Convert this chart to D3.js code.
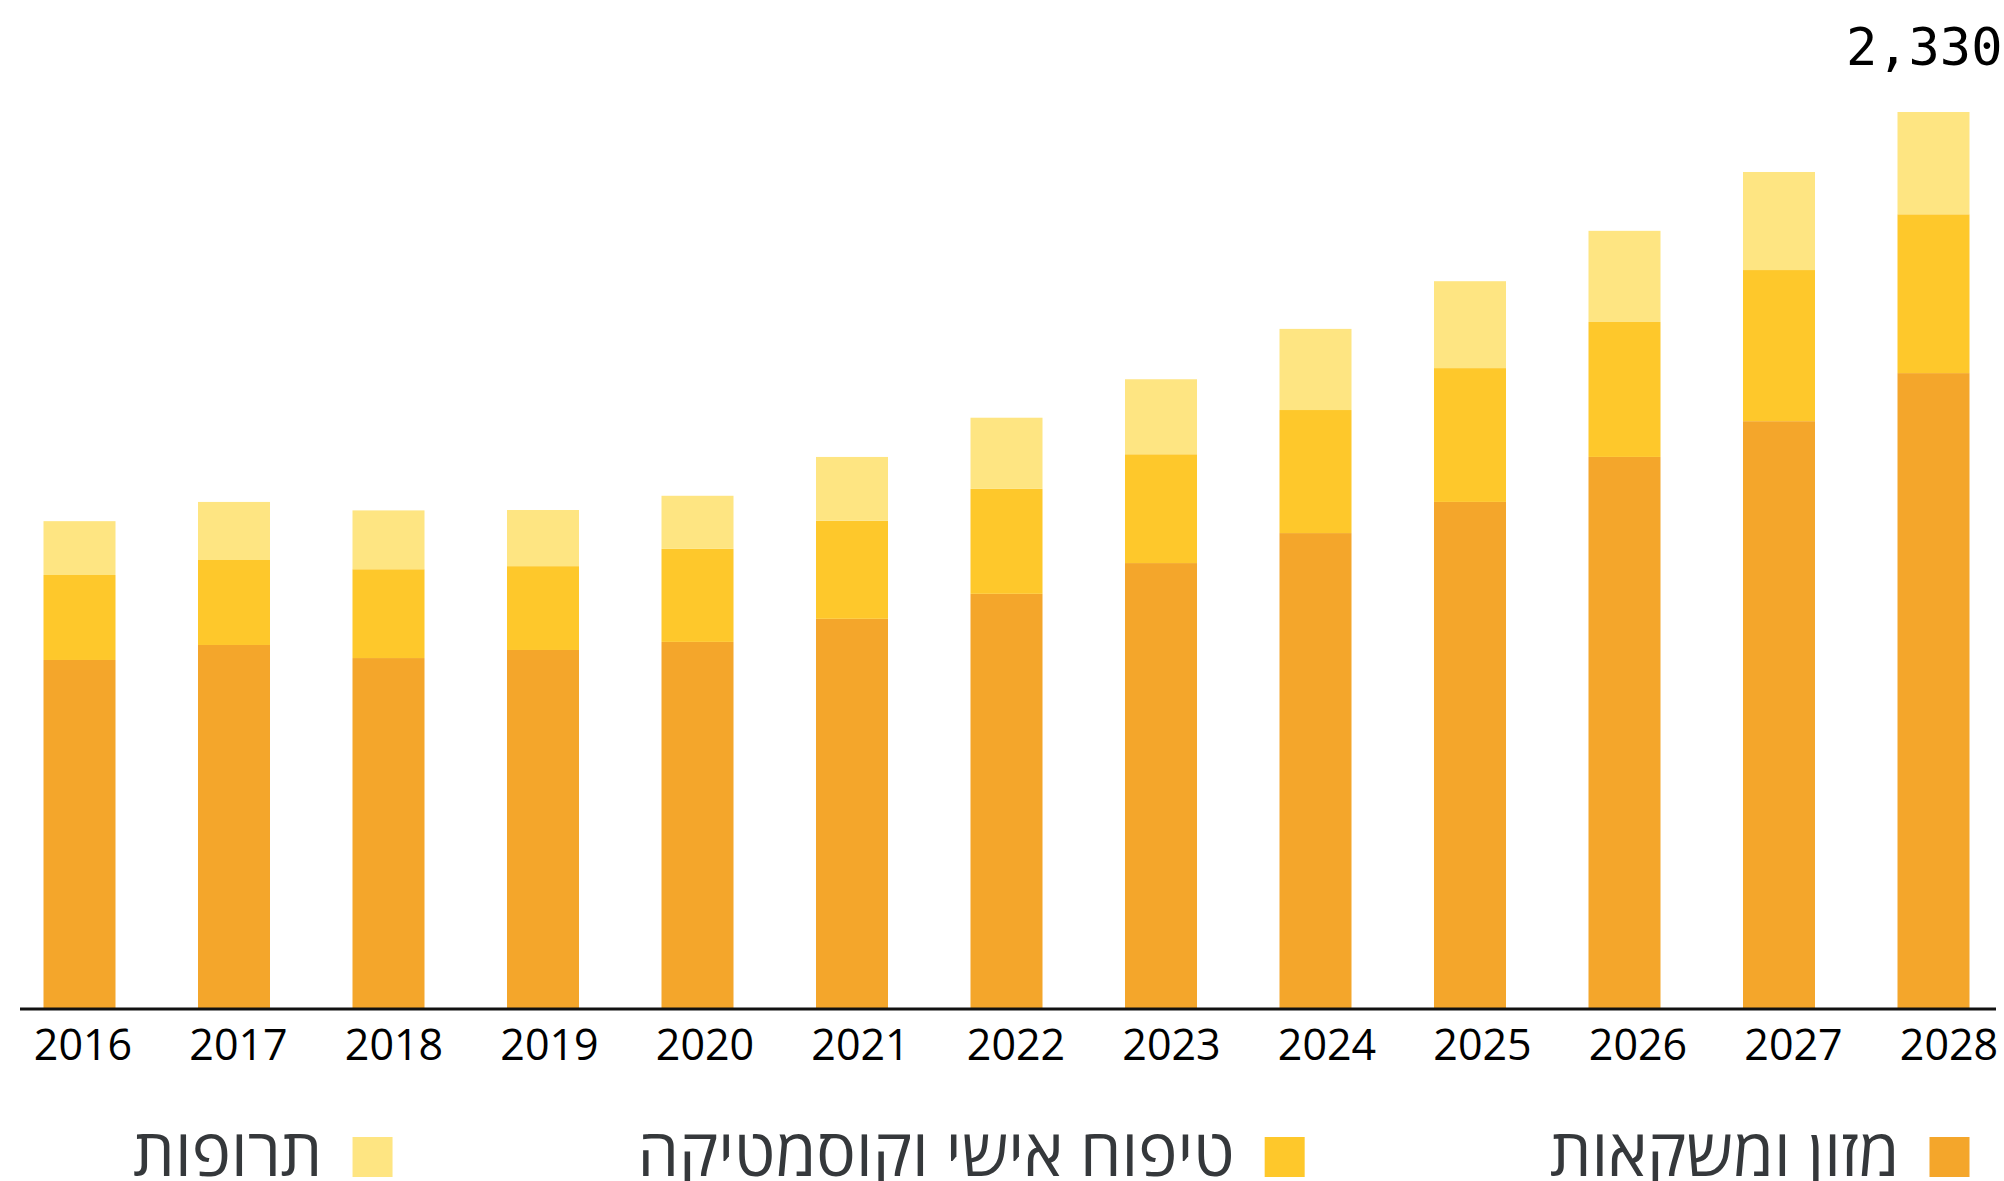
<!DOCTYPE html>
<html>
<head>
<meta charset="utf-8">
<script src="https://cdn.jsdelivr.net/npm/d3@7"></script>
<style>
  body { margin: 0; background: #ffffff; }
  svg { display: block; }
</style>
</head>
<body>
<div id="chart"></div>
<script>
// chart size
var chart_width = 2004, chart_height = 1181;

// data
var years = ["2016", "2017", "2018", "2019", "2020", "2021", "2022",
             "2023", "2024", "2025", "2026", "2027", "2028"];
var food = [905, 944, 910, 931, 952, 1012, 1077, 1157, 1235, 1316, 1433, 1526, 1651];
var cosmetics = [221, 221, 231, 218, 242, 255, 273, 283, 320, 348, 351, 393, 413];
var medicine = [140, 151, 153, 146, 138, 166, 185, 195, 211, 226, 237, 255, 266];
var series_names = ["מזון ומשקאות", "טיפוח אישי וקוסמטיקה", "תרופות"];
var series_colors = ["#f4a62b", "#fec82b", "#fee582"];
var top_label = "2,330";

// table for d3.stack
var table = years.map(function (y, i) {
    return { year: y, food: food[i], cosmetics: cosmetics[i], medicine: medicine[i] };
});
var keys = ["food", "cosmetics", "medicine"];
var stacked = d3.stack().keys(keys)(table);

var svg = d3.select("#chart")
    .append("svg")
    .attr("width", chart_width)
    .attr("height", chart_height);

var x = d3.scaleBand()
    .domain(years)
    .range([2.25, 2010.75])
    .paddingInner(0.534)
    .paddingOuter(0.267);

// labels sit a little wider than the bars
var x_label = x.copy().range([5.25, 2026.75]);

var y = d3.scaleLinear()
    .domain([0, 2330])
    .range([1008, 112]);

// bars
svg.append("g")
    .selectAll("g")
    .data(stacked)
    .join("g")
    .attr("fill", function (d, i) { return series_colors[i]; })
    .selectAll("rect")
    .data(function (d) { return d; })
    .join("rect")
    .attr("x", function (d) { return x(d.data.year); })
    .attr("y", function (d) { return y(d[1]); })
    .attr("width", x.bandwidth())
    .attr("height", function (d) { return y(d[0]) - y(d[1]); });

// x axis line
svg.append("line")
    .attr("x1", 20)
    .attr("x2", 1996)
    .attr("y1", y(0) + 1)
    .attr("y2", y(0) + 1)
    .attr("stroke", "#111")
    .attr("stroke-width", 3);

// year labels
svg.append("g")
    .selectAll("text")
    .data(years)
    .join("text")
    .attr("x", function (d) { return x_label(d) + x_label.bandwidth() / 2; })
    .attr("y", y(0) + 52)
    .attr("text-anchor", "middle")
    .style("font-family", "'Open Sans', sans-serif")
    .style("font-size", "43px")
    .style("fill", "#000")
    .text(function (d) { return d; });

// total on the last bar
var last = years[years.length - 1];
var last_total = food[12] + cosmetics[12] + medicine[12];
svg.append("text")
    .attr("x", x(last) + x.bandwidth() + 33)
    .attr("y", y(last_total) - 47)
    .attr("text-anchor", "end")
    .style("font-family", "'DejaVu Sans Mono', monospace")
    .style("font-size", "52px")
    .style("fill", "#000")
    .text(top_label);

// legend, laid out right to left
var legend = svg.append("g");
var lx = x(last) + x.bandwidth();
var box = 40;
series_names.forEach(function (name, i) {
    legend.append("rect")
        .attr("x", lx - box)
        .attr("y", 1137)
        .attr("width", box)
        .attr("height", box)
        .attr("fill", series_colors[i]);
    var t = legend.append("text")
        .attr("x", lx - box - 30)
        .attr("y", 1176)
        .attr("text-anchor", "end")
        .style("font-family", "'Open Sans', sans-serif")
        .style("font-size", "66px")
        .style("fill", "#35383b")
        .text(name);
    var w = t.node().getComputedTextLength();
    lx = lx - box - 30 - w - 245;
});
</script>
</body>
</html>
